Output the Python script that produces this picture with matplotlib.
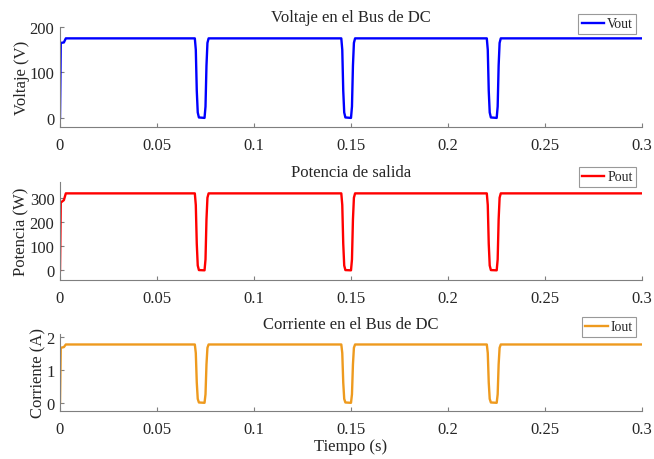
import matplotlib
matplotlib.use("Agg")
import matplotlib.pyplot as plt
import numpy as np

plt.rcParams['font.family'] = ['Liberation Serif', 'DejaVu Serif']

# ---- data (key points) ----
t_pts = [0.0, 0.0004, 0.0020, 0.0030,
         0.0695, 0.0700, 0.0705, 0.0710, 0.0716, 0.0745, 0.0750, 0.0755, 0.0760, 0.0766,
         0.1450, 0.1455, 0.1460, 0.1465, 0.1471, 0.1500, 0.1505, 0.1510, 0.1515, 0.1521,
         0.2200, 0.2205, 0.2210, 0.2215, 0.2221, 0.2251, 0.2256, 0.2261, 0.2266, 0.2272,
         0.3]
vout = [0, 165, 166, 175,
        175, 150, 60, 12, 1, 0, 25, 115, 165, 175,
        175, 150, 60, 12, 1, 0, 25, 115, 165, 175,
        175, 150, 60, 12, 1, 0, 25, 115, 165, 175,
        175]
pout = [0, 280, 290, 318,
        318, 270, 110, 20, 1, 0, 45, 210, 300, 318,
        318, 270, 110, 20, 1, 0, 45, 210, 300, 318,
        318, 270, 110, 20, 1, 0, 45, 210, 300, 318,
        318]
iout = [0, 1.68, 1.70, 1.78,
        1.78, 1.52, 0.62, 0.12, 0.01, 0.0, 0.26, 1.17, 1.68, 1.78,
        1.78, 1.52, 0.62, 0.12, 0.01, 0.0, 0.26, 1.17, 1.68, 1.78,
        1.78, 1.52, 0.62, 0.12, 0.01, 0.0, 0.26, 1.17, 1.68, 1.78,
        1.78]

titles = ["Voltaje en el Bus de DC", "Potencia de salida", "Corriente en el Bus de DC"]
ylabels = ["Voltaje (V)", "Potencia (W)", "Corriente (A)"]
labels = ["Vout", "Pout", "Iout"]
series = [vout, pout, iout]
colors = ["#0000FF", "#FF0000", "#EE9A1E"]
ylims = [(-20, 200), (-40, 365), (-0.25, 2.1)]
yticks = [[0, 100, 200], [0, 100, 200, 300], [0, 1, 2]]
xticks = [0, 0.05, 0.1, 0.15, 0.2, 0.25, 0.3]
xticklabels = ["0", "0.05", "0.1", "0.15", "0.2", "0.25", "0.3"]

fig = plt.figure(figsize=(6.54, 4.6), dpi=100)
W, H = 654, 460
boxes = [(28, 128), (183, 281), (335, 412)]
leg_tops = [15, 168, 318]
txt = "#262626"
spc = "#7f7f7f"
for i, (top, bot) in enumerate(boxes):
    ax = fig.add_axes([60 / W, 1 - bot / H, (642 - 60) / W, (bot - top) / H])
    ax.plot(t_pts, series[i], color=colors[i], lw=1.7, label=labels[i])
    ax.set_xlim(0, 0.3)
    ax.set_ylim(*ylims[i])
    ax.set_xticks(xticks)
    ax.set_xticklabels(xticklabels)
    ax.set_yticks(yticks[i])
    for s in ['top', 'right']:
        ax.spines[s].set_visible(False)
    for s in ['left', 'bottom']:
        ax.spines[s].set_color(spc)
        ax.spines[s].set_linewidth(0.8)
    ax.tick_params(direction='in', length=3, width=0.8, colors=spc,
                   labelcolor=txt, labelsize=12)
    ax.tick_params(axis='x', pad=7)
    ax.tick_params(axis='y', pad=4)
    ax.set_title(titles[i], fontsize=12, color=txt, pad=4)
    ax.set_ylabel(ylabels[i], fontsize=12, color=txt, labelpad=0)
    anchor_y = (bot - leg_tops[i]) / (bot - top)
    leg = ax.legend(loc='upper right', bbox_to_anchor=((636 - 60) / 582, anchor_y),
                    fontsize=10, frameon=True, fancybox=False, handlelength=1.6,
                    handletextpad=0.2, borderpad=0.25, borderaxespad=0.0)
    leg.get_frame().set_edgecolor("#808080")
    leg.get_frame().set_linewidth(0.8)
    for t in leg.get_texts():
        t.set_color(txt)
    if i == 2:
        ax.set_xlabel("Tiempo (s)", fontsize=12, color=txt, labelpad=1)

fig.savefig("out.png", dpi=100)
